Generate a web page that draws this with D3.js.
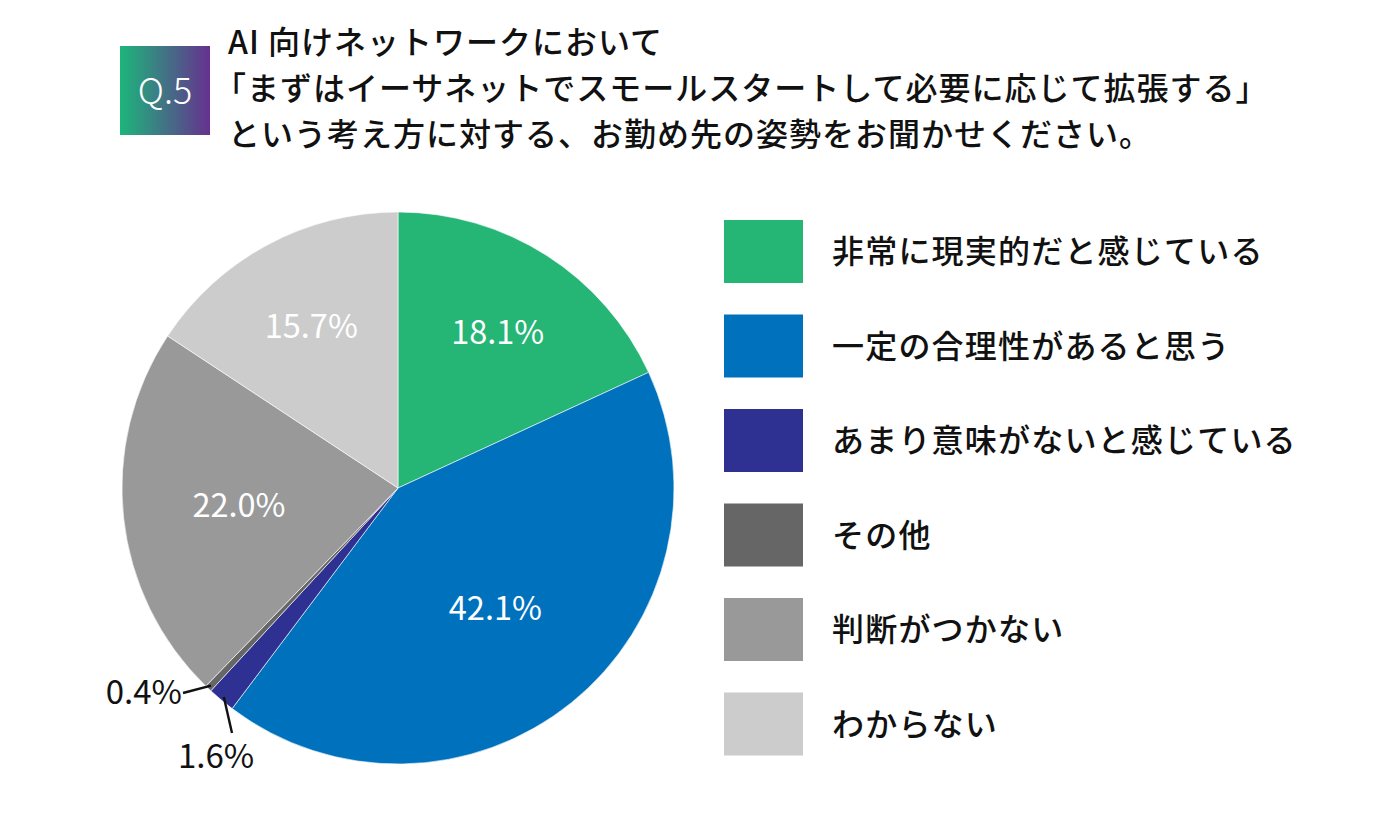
<!DOCTYPE html>
<html lang="ja">
<head>
<meta charset="UTF-8">
<title>Q.5 AI 向けネットワーク</title>
<style>
  body { margin: 0; background: #fff; }
  svg { display: block; font-family: "Noto Sans CJK JP", "Noto Sans", sans-serif; }
</style>
</head>
<body>
<svg width="1400" height="831"></svg>
<script src="https://d3js.org/d3.v7.min.js"></script>
<script>
// データ
const categories = ["非常に現実的だと感じている", "一定の合理性があると思う", "あまり意味がないと感じている", "その他", "判断がつかない", "わからない"];
const values = [18.1, 42.1, 1.6, 0.4, 22.0, 15.7];
const colors = ["#25b574", "#0071bc", "#2e3192", "#666666", "#999999", "#cccccc"];
const titleLines = ["AI 向けネットワークにおいて", "「まずはイーサネットでスモールスタートして必要に応じて拡張する」", "という考え方に対する、お勤め先の姿勢をお聞かせください。"];

const svg = d3.select("svg");

// 見出し
const defs = svg.append("defs");
const grad = defs.append("linearGradient").attr("id", "qgrad");
grad.append("stop").attr("offset", "0%").attr("stop-color", "#1db57b");
grad.append("stop").attr("offset", "100%").attr("stop-color", "#66318f");

svg.append("rect").attr("x", 120).attr("y", 46).attr("width", 90).attr("height", 89).attr("fill", "url(#qgrad)");
svg.append("text").attr("x", 165).attr("y", 104).attr("text-anchor", "middle")
  .attr("fill", "#fff").attr("font-size", 36).attr("font-weight", 300).text("Q.5");

svg.append("g").selectAll("text").data(titleLines).join("text")
  .attr("x", (d, i) => i === 1 ? 214 : 228)
  .attr("y", (d, i) => 54 + i * 46)
  .attr("font-size", 32).attr("font-weight", 500).attr("fill", "#111")
  .attr("letter-spacing", 1)
  .text(d => d);

// 円グラフ
const cx = 398, cy = 488, r = 276;
const pie = d3.pie().sort(null).value(d => d)(values);
const arc = d3.arc().innerRadius(0).outerRadius(r);
const g = svg.append("g").attr("transform", `translate(${cx},${cy})`);

g.selectAll("path").data(pie).join("path")
  .attr("d", arc)
  .attr("fill", (d, i) => colors[i])
  .attr("stroke", "#fff").attr("stroke-width", 0.6);

// 内側ラベル（大きいスライスのみ）
const labelR = [185, 155, 0, 0, 160, 183];
pie.forEach((d, i) => {
  if (d.value < 5) return;
  const c = d3.arc().innerRadius(labelR[i]).outerRadius(labelR[i]).centroid(d);
  g.append("text").attr("x", c[0]).attr("y", c[1]).attr("dy", "0.35em")
    .attr("text-anchor", "middle").attr("fill", "#fff").attr("font-size", 32.5)
    .text(d3.format(".1f")(d.value) + "%");
});

// 外側ラベル（小さいスライス）
const small = [
  { i: 3, end: [-215, 205], text: [-216, 204], anchor: "end" },
  { i: 2, end: [-166, 245], text: [-182, 268], anchor: "middle" }
];
small.forEach(s => {
  const d = pie[s.i];
  const p = d3.arc().innerRadius(r - 4).outerRadius(r - 4).centroid(d);
  g.append("path").attr("d", d3.line()([p, s.end]))
    .attr("stroke", "#111").attr("stroke-width", 2.4).attr("fill", "none");
  g.append("text").attr("x", s.text[0]).attr("y", s.text[1]).attr("dy", "0.35em")
    .attr("text-anchor", s.anchor).attr("fill", "#111").attr("font-size", 33)
    .text(d3.format(".1f")(d.value) + "%");
});

// 凡例
const leg = svg.append("g").attr("transform", "translate(724,220)");
const rows = leg.selectAll("g").data(categories).join("g")
  .attr("transform", (d, i) => `translate(0,${i * 94.5})`);
rows.append("rect").attr("width", 79).attr("height", 63).attr("fill", (d, i) => colors[i]);
rows.append("text").attr("x", 108).attr("y", 32).attr("dy", "0.35em")
  .attr("font-size", 32).attr("font-weight", 500).attr("fill", "#111")
  .attr("letter-spacing", 1.2)
  .text(d => d);
</script>
</body>
</html>
